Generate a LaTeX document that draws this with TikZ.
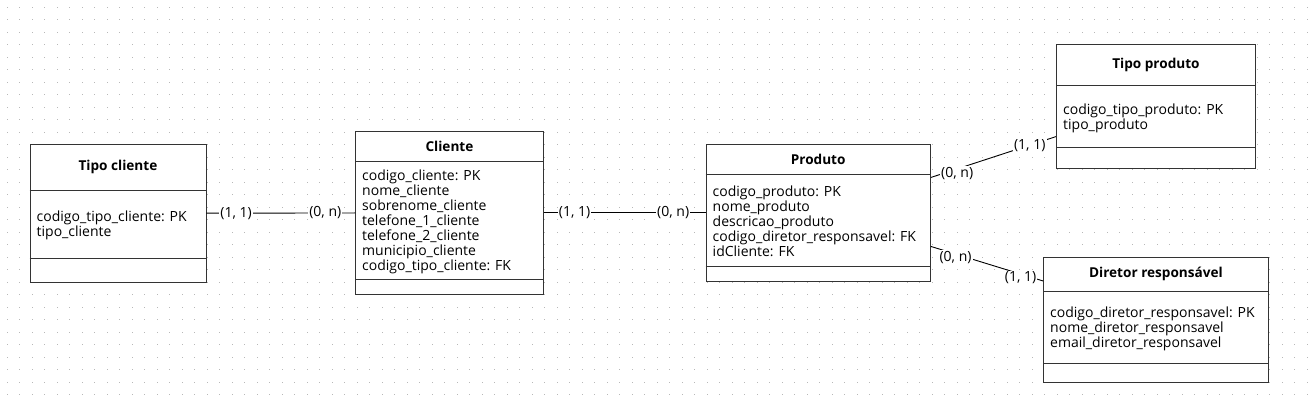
\documentclass[tikz,border=0pt]{standalone}
\usepackage{fontspec}
\setmainfont{Open Sans}

\tikzset{
  ent/.style={draw=black!80, line width=0.9pt, fill=white, anchor=north west, inner sep=0pt},
  sep/.style={draw=black!80, line width=0.9pt},
  title/.style={font=\fontsize{13.6}{15}\selectfont\bfseries, inner sep=0pt},
  attr/.style={font=\fontsize{14}{15}\selectfont, align=left, anchor=west, inner sep=0pt},
  card/.style={font=\fontsize{14}{15}\selectfont, fill=white, inner sep=1.2pt},
  rel/.style={draw=black, line width=0.9pt},
  griddot/.style={fill=black!28}
}

\begin{document}
\begin{tikzpicture}[x=1pt,y=-1pt]
\useasboundingbox (0,0) rectangle (1315,406);
\fill[white] (0,0) rectangle (1315,406);

% dotted background
\foreach \i in {0,...,104}
  \foreach \j in {0,...,31}
    \fill[griddot] (6.5+12.5*\i,6.7+12.5*\j) rectangle ++(1.1,1.1);

% Tipo cliente
\node[ent, minimum width=176pt, minimum height=137.5pt] (tcli) at (29.5,144) {};
\draw[sep] ([yshift=-46pt]tcli.north west) -- ([yshift=-46pt]tcli.north east);
\draw[sep] ([yshift=-114.3pt]tcli.north west) -- ([yshift=-114.3pt]tcli.north east);
\node[title] (tcli-t) at ([yshift=-23pt]tcli.north) {Tipo cliente};
\node[attr] (tcli-a) at ([xshift=7pt,yshift=-81.5pt]tcli.north west) {codigo\_tipo\_cliente: PK\\tipo\_cliente};

% Cliente
\node[ent, minimum width=188pt, minimum height=162pt] (cli) at (355,131.5) {};
\draw[sep] ([yshift=-29.5pt]cli.north west) -- ([yshift=-29.5pt]cli.north east);
\draw[sep] ([yshift=-147.8pt]cli.north west) -- ([yshift=-147.8pt]cli.north east);
\node[title] (cli-t) at ([yshift=-14.8pt]cli.north) {Cliente};
\node[attr] (cli-a) at ([xshift=7pt,yshift=-90pt]cli.north west) {codigo\_cliente: PK\\nome\_cliente\\sobrenome\_cliente\\telefone\_1\_cliente\\telefone\_2\_cliente\\municipio\_cliente\\codigo\_tipo\_cliente: FK};

% Produto
\node[ent, minimum width=224.5pt, minimum height=137pt] (prod) at (705.5,144) {};
\draw[sep] ([yshift=-30pt]prod.north west) -- ([yshift=-30pt]prod.north east);
\draw[sep] ([yshift=-122pt]prod.north west) -- ([yshift=-122pt]prod.north east);
\node[title] (prod-t) at ([yshift=-15pt]prod.north) {Produto};
\node[attr] (prod-a) at ([xshift=7pt,yshift=-77.5pt]prod.north west) {codigo\_produto: PK\\nome\_produto\\descricao\_produto\\codigo\_diretor\_responsavel: FK\\idCliente: FK};

% Tipo produto
\node[ent, minimum width=199pt, minimum height=124.3pt] (tprod) at (1056,44) {};
\draw[sep] ([yshift=-41pt]tprod.north west) -- ([yshift=-41pt]tprod.north east);
\draw[sep] ([yshift=-103.7pt]tprod.north west) -- ([yshift=-103.7pt]tprod.north east);
\node[title] (tprod-t) at ([yshift=-20.5pt]tprod.north) {Tipo produto};
\node[attr] (tprod-a) at ([xshift=7pt,yshift=-74pt]tprod.north west) {codigo\_tipo\_produto: PK\\tipo\_produto};

% Diretor responsavel
\node[ent, minimum width=225pt, minimum height=125pt] (dir) at (1043,256.7) {};
\draw[sep] ([yshift=-35pt]dir.north west) -- ([yshift=-35pt]dir.north east);
\draw[sep] ([yshift=-106.6pt]dir.north west) -- ([yshift=-106.6pt]dir.north east);
\node[title] (dir-t) at ([yshift=-17.5pt]dir.north) {Diretor responsável};
\node[attr] (dir-a) at ([xshift=7pt,yshift=-72.3pt]dir.north west) {codigo\_diretor\_responsavel: PK\\nome\_diretor\_responsavel\\email\_diretor\_responsavel};

% relationships
\draw[rel] (tcli.east) -- node[card, pos=0.2] {(1, 1)} node[card, pos=0.8] {(0, n)} (cli.west);
\draw[rel] (cli.east) -- node[card, pos=0.19] {(1, 1)} node[card, pos=0.8] {(0, n)} (prod.west);
\draw[rel] ([yshift=35.5pt]prod.east) -- node[card, pos=0.21, yshift=-5pt] {(0, n)} node[card, pos=0.79] {(1, 1)} ([yshift=-30pt]tprod.west);
\draw[rel] ([yshift=-33.5pt]prod.east) -- node[card, pos=0.22, yshift=-3pt] {(0, n)} node[card, pos=0.8, yshift=-4pt] {(1, 1)} ([yshift=38.7pt]dir.west);

\end{tikzpicture}
\end{document}
